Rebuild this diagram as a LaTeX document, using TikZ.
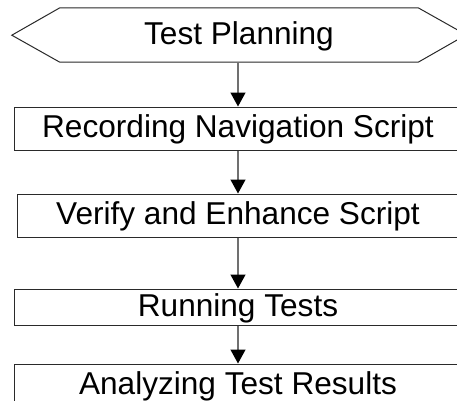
\documentclass[tikz,border=0pt]{standalone}
\usepackage{fontspec}
\setmainfont{Liberation Sans}
\usetikzlibrary{arrows.meta}
\definecolor{edge}{HTML}{2A2A2A}
\definecolor{shaft}{HTML}{707070}
\tikzset{
  lbl/.style={inner sep=0pt, text height=22pt, text depth=4pt, font=\fontsize{31.6}{36}\selectfont},
  stepbox/.style={lbl, draw=edge, line width=1pt, fill=white},
  flow/.style={draw=shaft, line width=1.3pt, -{Triangle[width=15pt,length=14pt,color=black]}}
}
\begin{document}
\begin{tikzpicture}[x=1pt,y=-1pt]
\clip (0,0) rectangle (457,400);
\fill[white] (0,0) rectangle (457,400);
% hexagon start node
\node[lbl, minimum width=358pt, minimum height=54pt] (tp) at (239,35) {Test Planning};
\draw[edge, line width=1pt] (tp.north west) -- (tp.north east) -- ++(48,27) -- (tp.south east) -- (tp.south west) -- ++(-48,-27) -- cycle;
\node[stepbox, minimum width=448pt, minimum height=43pt] (b1) at (238,128.5) {Recording Navigation Script};
\node[stepbox, minimum width=442pt, minimum height=43pt] (b2) at (238,215.5) {Verify and Enhance Script};
\node[stepbox, minimum width=448pt, minimum height=36pt] (b3) at (238,307) {Running Tests};
\node[stepbox, minimum width=448pt, minimum height=42pt] (b4) at (238,385) {Analyzing Test Results};
\draw[flow] (tp.south -| 238,0) -- (b1.north);
\draw[flow] (b1) -- (b2);
\draw[flow] (b2) -- (b3);
\draw[flow] (b3) -- (b4);
\end{tikzpicture}
\end{document}
